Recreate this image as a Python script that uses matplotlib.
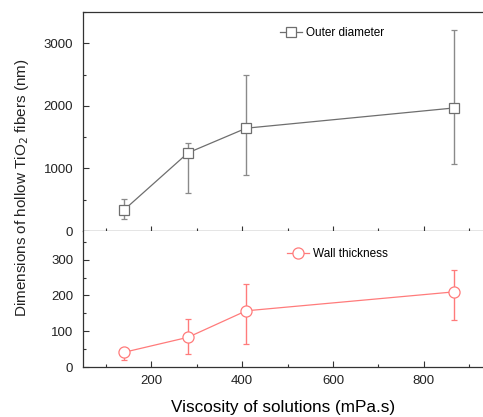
import numpy as np
import matplotlib
matplotlib.use('Agg')
import matplotlib.pyplot as plt
from matplotlib.ticker import MultipleLocator
from matplotlib.lines import Line2D

plt.rcParams['font.family'] = ['Liberation Sans', 'DejaVu Sans']

viscosity = [140, 281, 409, 867]
outer_diam = [335, 1249, 1643, 1967]
outer_err_low = [150, 640, 750, 900]
outer_err_high = [175, 165, 850, 1245]
wall = [41, 83, 157, 210]
wall_err_low = [22, 47, 93, 78]
wall_err_high = [11, 50, 76, 60]

fig = plt.figure(figsize=(4.83, 4.17), dpi=100)
left = 83 / 483
ax1 = fig.add_axes([left, 1 - 231 / 417, 1 - left, (231 - 12) / 417])
ax2 = fig.add_axes([left, 1 - 367 / 417, 1 - left, (367 - 231) / 417], sharex=ax1)

gray = '#6e6e6e'
red = '#ff7b7b'
spine_c = '#333333'

ax1.errorbar(viscosity, outer_diam, yerr=[outer_err_low, outer_err_high],
             color=gray, ecolor='#8a8a8a', lw=0.9, elinewidth=1.0, capsize=2.5,
             marker='s', ms=7, mfc='white', mec=gray, mew=0.9)
ax2.errorbar(viscosity, wall, yerr=[wall_err_low, wall_err_high],
             color=red, ecolor=red, lw=0.9, elinewidth=1.0, capsize=2.5,
             marker='o', ms=8, mfc='white', mec=red, mew=0.9)

ax1.set_xlim(50, 930)
ax1.set_ylim(0, 3500)
ax2.set_ylim(0, 380)

ax1.xaxis.set_major_locator(MultipleLocator(200))
ax1.xaxis.set_minor_locator(MultipleLocator(100))
ax1.yaxis.set_major_locator(MultipleLocator(1000))
ax1.yaxis.set_minor_locator(MultipleLocator(500))
ax2.yaxis.set_major_locator(MultipleLocator(100))
ax2.yaxis.set_minor_locator(MultipleLocator(50))

for ax in (ax1, ax2):
    ax.spines['right'].set_visible(False)
    for s in ax.spines.values():
        s.set_color(spine_c)
        s.set_linewidth(0.9)
    ax.tick_params(which='both', colors=spine_c, labelsize=9.5, width=0.8, labelcolor='#222222')
    ax.tick_params(axis='y', which='both', direction='in', pad=7)
    ax.tick_params(which='major', length=4)
    ax.tick_params(which='minor', length=2.5)

ax2.spines['top'].set_visible(False)
ax1.tick_params(axis='x', which='both', direction='inout', labelbottom=False)
ax1.tick_params(axis='x', which='major', length=7)
ax1.tick_params(axis='x', which='minor', length=4)
ax2.tick_params(axis='x', which='both', direction='in', pad=6)

ax2.set_xlabel('Viscosity of solutions (mPa.s)', fontsize=12.3, labelpad=9)
fig.text(0.045, 0.55, 'Dimensions of hollow TiO$_2$ fibers (nm)', rotation=90,
         ha='center', va='center', fontsize=11, color='#222222')

h1 = Line2D([], [], color=gray, lw=0.9, marker='s', ms=7, mfc='white', mec=gray, mew=0.9)
h2 = Line2D([], [], color=red, lw=0.9, marker='o', ms=8, mfc='white', mec=red, mew=0.9)
ax1.legend([h1], ['Outer diameter'], loc='upper left', bbox_to_anchor=(0.465, 0.98),
           frameon=False, fontsize=8.5, handlelength=1.9, handletextpad=0.3)
ax2.legend([h2], ['Wall thickness'], loc='upper left', bbox_to_anchor=(0.483, 0.95),
           frameon=False, fontsize=8.5, handlelength=1.9, handletextpad=0.3)

fig.savefig('out.png', dpi=100)
